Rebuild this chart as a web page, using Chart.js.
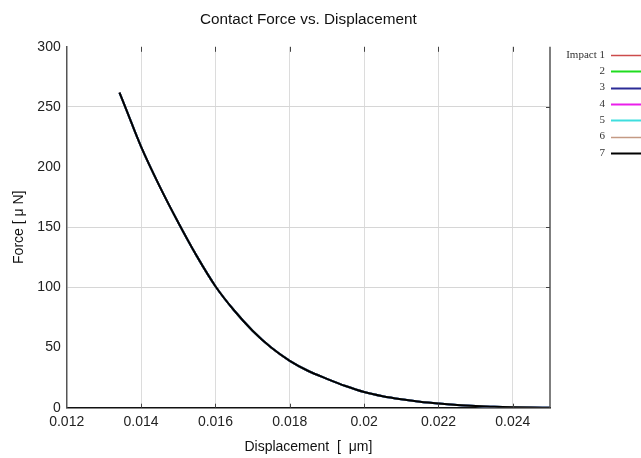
<!DOCTYPE html>
<html>
<head>
<meta charset="utf-8">
<script src="https://cdn.jsdelivr.net/npm/chart.js@4/dist/chart.umd.min.js"></script>
<style>
  html, body { margin: 0; padding: 0; background: #fff; }
  #wrap { width: 641px; height: 458px; position: relative; }
</style>
</head>
<body>
<div id="wrap"><canvas id="chart-force" width="641" height="458"></canvas></div>
<script>
// datos (las 7 curvas se superponen)
const displacement = [0.01342, 0.0136, 0.014, 0.0145, 0.015, 0.0155, 0.016, 0.0165, 0.017, 0.0175,
  0.018, 0.0185, 0.019, 0.0195, 0.020, 0.0205, 0.021, 0.0215, 0.022, 0.0225, 0.023, 0.0235, 0.024, 0.0245, 0.025];
const force = [262, 248, 217, 184, 154, 126, 101, 81, 64, 50,
  39, 30.5, 24, 18, 13, 9.5, 7, 5, 3.5, 2.3, 1.4, 0.7, 0.3, 0.1, 0];
const impactLabels = ["Impact 1", "2", "3", "4", "5", "6", "7"];
const impactColors = ["#cc4b4b", "#1fdc1f", "#2b2b96", "#ea1fea", "#3fdede", "#c49a84", "#000000"];
const impactWidths = [1.5, 2, 2, 2, 2, 1.5, 2];
const xTicks = [0.012, 0.014, 0.016, 0.018, 0.020, 0.022, 0.024];
const yTicks = [0, 50, 100, 150, 200, 250, 300];
const yGrid = [100, 150, 250];
const chartTitle = "Contact Force vs. Displacement";

const points = displacement.map((d, i) => ({ x: d, y: force[i] }));

const datasets = impactLabels.map((lbl, i) => ({
  label: lbl,
  data: points,
  borderColor: impactColors[i],
  backgroundColor: impactColors[i],
  borderWidth: impactWidths[i],
  pointRadius: 0,
  cubicInterpolationMode: "monotone",
  order: impactLabels.length - 1 - i,
}));

// titulo, marco, marcas y leyenda
const framePlugin = {
  id: "frame",
  afterDraw(chart) {
    const c = chart.ctx;
    const a = chart.chartArea;
    const xs = chart.scales.x;
    const ys = chart.scales.y;
    c.save();
    c.font = "15.3px 'Liberation Sans', Arial, sans-serif";
    c.fillStyle = "#111";
    c.textAlign = "center";
    c.textBaseline = "middle";
    c.fillText(chartTitle, (a.left + a.right) / 2, 20);

    c.strokeStyle = "#555";
    c.lineWidth = 1.5;
    c.beginPath();
    c.moveTo(a.right, a.top);
    c.lineTo(a.right, a.bottom);
    c.stroke();
    c.strokeStyle = "#444";
    c.lineWidth = 1;
    c.beginPath();
    xTicks.slice(1).forEach(v => {
      const px = Math.round(xs.getPixelForValue(v)) + 0.5;
      c.moveTo(px, a.top);
      c.lineTo(px, a.top + 5);
      c.moveTo(px, a.bottom);
      c.lineTo(px, a.bottom - 4);
    });
    yGrid.forEach(v => {
      const py = Math.round(ys.getPixelForValue(v)) + 0.5;
      c.moveTo(a.right, py);
      c.lineTo(a.right - 4, py);
    });
    c.stroke();

    // leyenda
    c.font = "11px 'Liberation Serif', serif";
    c.textAlign = "right";
    chart.data.datasets.forEach((ds, i) => {
      const y = 55 + i * 16.3;
      c.fillStyle = "#333";
      c.fillText(ds.label, 605, y);
      c.strokeStyle = ds.borderColor;
      c.lineWidth = ds.borderWidth;
      c.beginPath();
      c.moveTo(611, Math.round(y) + 0.5);
      c.lineTo(641, Math.round(y) + 0.5);
      c.stroke();
    });
    c.restore();
  }
};

const ctx = document.getElementById("chart-force").getContext("2d");
const fontAxis = { family: "'Liberation Sans', Arial, sans-serif", size: 14 };

let chartForce = new Chart(ctx, {
  type: "line",
  data: { datasets: datasets },
  options: {
    responsive: false,
    animation: false,
    layout: { padding: { left: 0, right: 91, top: 46.8, bottom: 0 } },
    plugins: {
      legend: { display: false },
      tooltip: { enabled: false },
      title: { display: false },
    },
    scales: {
      x: {
        type: "linear",
        min: 0.012,
        max: 0.025,
        afterBuildTicks: axis => { axis.ticks = xTicks.map(v => ({ value: v })); },
        afterFit: scale => { scale.height = 50.3; },
        ticks: {
          font: fontAxis,
          color: "#222",
          padding: 6,
          maxRotation: 0,
          callback: v => String(+v.toFixed(4)),
        },
        grid: { color: "#dcdcdc", lineWidth: 1, drawTicks: false },
        border: { color: "#111", width: 1.5 },
        title: {
          display: true,
          text: "Displacement  [  μm]",
          color: "#111",
          font: fontAxis,
          padding: { top: 0, bottom: 2.6 },
        },
      },
      y: {
        type: "linear",
        min: 0,
        max: 300,
        afterBuildTicks: axis => { axis.ticks = yTicks.map(v => ({ value: v })); },
        afterFit: scale => { scale.width = 66.7; },
        ticks: { font: fontAxis, color: "#222", padding: 6 },
        grid: {
          color: c => (c.tick && yGrid.includes(c.tick.value)) ? "#d6d6d6" : "rgba(0,0,0,0)",
          lineWidth: 1,
          drawTicks: false,
        },
        border: { color: "#555", width: 1.5 },
        title: {
          display: true,
          text: "Force [ μ N]",
          color: "#111",
          font: fontAxis,
          padding: { top: 10.6, bottom: 0 },
        },
      },
    },
  },
  plugins: [framePlugin],
});
</script>
</body>
</html>
